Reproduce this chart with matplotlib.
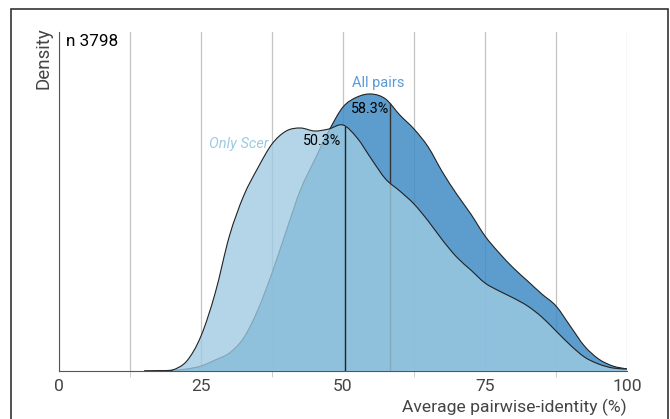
"""
Average pairwise identity density: all pairs vs only S. cerevisiae pairs
"""
import matplotlib
matplotlib.use("Agg")
import matplotlib.pyplot as plt
import matplotlib.patches as mpatches
from matplotlib.path import Path
import numpy as np

plt.rcParams["font.family"] = ["Roboto", "DejaVu Sans"]

# ── data ──────────────────────────────────────────────────
identity = [15, 18, 20, 22.5, 25, 27.5, 30, 32.5, 35, 37.5, 40, 42.5, 45, 47.5,
            50, 52.5, 55, 57.5, 60, 62.5, 65, 67.5, 70, 72.5, 75, 77.5, 80,
            82.5, 85, 87.5, 90, 92.5, 95, 97.5, 100]
dens_all = [0, 0.3, 0.8, 2, 5, 11, 18, 33, 61, 98, 140, 181, 211, 240,
            264, 274, 277, 272, 256, 242, 224, 199, 177, 157, 135, 118, 103,
            90, 77, 65, 45, 25, 12, 5, 2]
dens_scer = [0, 0.3, 1, 10, 35, 78, 135, 175, 203, 227, 240, 243, 240, 242,
             246, 233, 212, 192, 180, 167, 150, 131, 114, 101, 88, 80, 73,
             65, 54, 40, 26, 14, 7, 3, 2]
median_all = 58.3
median_scer = 50.3
n_pairs = 3798

x = np.array(identity, dtype=float)
y_all = np.array(dens_all) / 1e4
y_scer = np.array(dens_scer) / 1e4


def smooth_curve(xs, ys, closed=False):
    """Catmull-Rom through the points, drawn as cubic Bezier segments."""
    pts = np.column_stack([xs, ys])
    ext = np.vstack([pts[0], pts, pts[-1]])
    verts, codes = [], []
    if closed:
        verts += [(xs[0], 0), tuple(pts[0])]
        codes += [Path.MOVETO, Path.LINETO]
    else:
        verts.append(tuple(pts[0]))
        codes.append(Path.MOVETO)
    for i in range(len(pts) - 1):
        p0, p1, p2, p3 = ext[i], ext[i + 1], ext[i + 2], ext[i + 3]
        c1 = p1 + (p2 - p0) / 6
        c2 = p2 - (p3 - p1) / 6
        verts += [tuple(c1), tuple(c2), tuple(p2)]
        codes += [Path.CURVE4] * 3
    if closed:
        verts += [(xs[-1], 0), (xs[0], 0)]
        codes += [Path.LINETO, Path.CLOSEPOLY]
    return Path(verts, codes)


# ── figure ────────────────────────────────────────────────
fig = plt.figure(figsize=(6.7, 4.19), dpi=100)
ax = fig.add_axes([59 / 670, 1 - 371 / 419, 568 / 670, 339 / 419])

c_all = "#3f8cc6"
c_scer = "#9ecae1"

ax.add_patch(mpatches.PathPatch(smooth_curve(x, y_all, True), fc=c_all,
                                alpha=0.85, lw=0, zorder=2))
ax.add_patch(mpatches.PathPatch(smooth_curve(x, y_all), fill=False,
                                ec="#222222", lw=0.8, zorder=2.1))
ax.plot([median_all] * 2, [0, np.interp(median_all, x, y_all)],
        color="#333333", lw=1.0, zorder=2.2)

ax.add_patch(mpatches.PathPatch(smooth_curve(x, y_scer, True), fc=c_scer,
                                alpha=0.78, lw=0, zorder=3))
ax.add_patch(mpatches.PathPatch(smooth_curve(x, y_scer), fill=False,
                                ec="#222222", lw=0.8, zorder=3.1))
ax.plot([median_scer] * 2, [0, np.interp(median_scer, x, y_scer)],
        color="#222222", lw=1.0, zorder=3.2)

# labels
ax.text(56.2, 288 / 1e4, "All pairs", color="#5b9bd5", fontsize=10.5,
        ha="center", va="center", zorder=5)
ax.text(median_all - 0.2, 262 / 1e4, f"{median_all}%", color="black",
        fontsize=10.3, ha="right", va="center", zorder=5)
ax.text(36.8, 227 / 1e4, "Only Scer", color="#9ecae1", fontsize=10.5,
        style="italic", ha="right", va="center", zorder=5)
ax.text(median_scer - 0.7, 230 / 1e4, f"{median_scer}%", color="black",
        fontsize=10.3, ha="right", va="center", zorder=5)
ax.text(1.2, 329 / 1e4, f"n {n_pairs}", color="black", fontsize=12.3,
        ha="left", va="center", zorder=5)

# axes styling
ax.set_xlim(0, 100)
ax.set_ylim(0, 339 / 1e4)
ax.set_xticks([0, 25, 50, 75, 100])
ax.set_xticks([12.5, 37.5, 62.5, 87.5], minor=True)
ax.set_yticks([])
ax.tick_params(axis="x", which="major", length=0, pad=6, labelsize=12.6,
               labelcolor="#444444")
ax.tick_params(axis="x", which="minor", length=4, color="#c4c4c4")
ax.grid(axis="x", which="both", color="#c4c4c4", lw=0.9)
ax.set_axisbelow(True)
for s in ["top", "right"]:
    ax.spines[s].set_visible(False)
ax.spines["left"].set_color("#555555")
ax.spines["bottom"].set_color("#555555")
ax.set_xlabel("Average pairwise-identity (%)", loc="right", fontsize=12.6,
              color="#444444", labelpad=3)

fig.text(43 / 670, 1 - 27 / 419, "Density", rotation=90, ha="center",
         va="top", fontsize=13.5, color="#444444")

# frame around the figure
fig.patches.append(mpatches.Rectangle((11 / 670, -0.1), 657 / 670, 1 - 9 / 419 + 0.1,
                                      transform=fig.transFigure, fill=False,
                                      ec="#333333", lw=1.2, clip_on=False))

fig.savefig("out.png", dpi=100)
